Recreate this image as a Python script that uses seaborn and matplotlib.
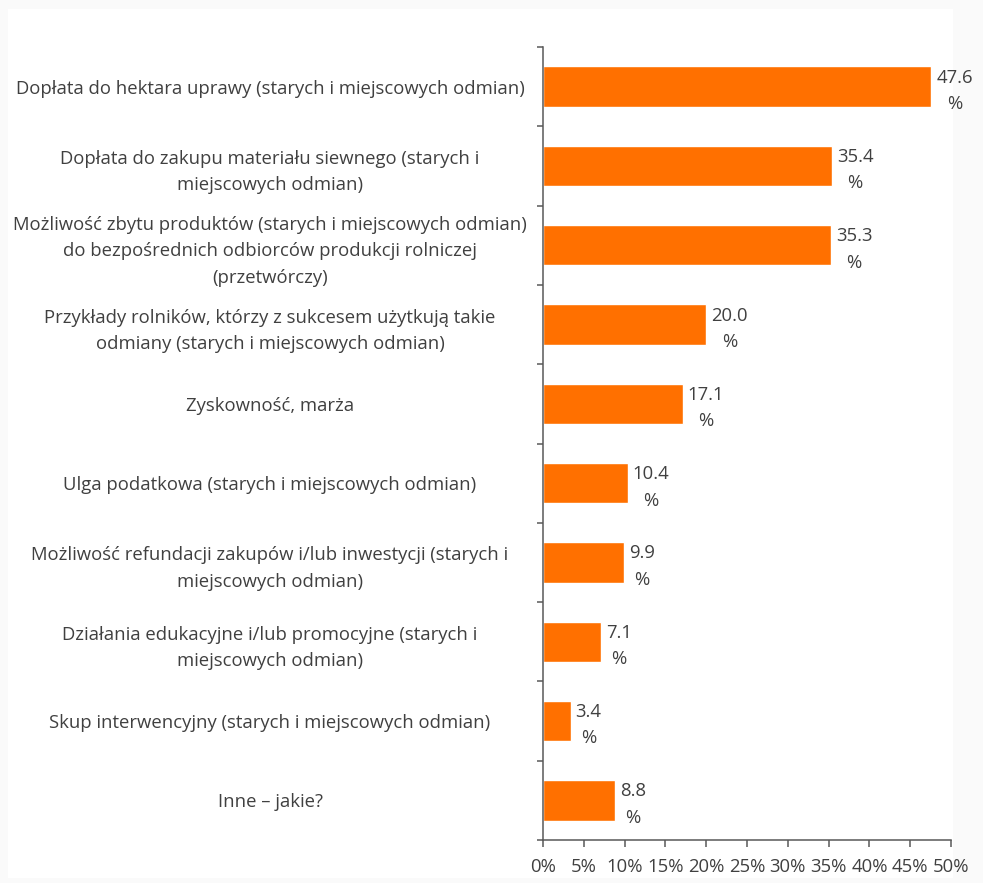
import matplotlib
matplotlib.use("Agg")
import matplotlib.pyplot as plt
import seaborn as sns
import pandas as pd
import numpy as np
from matplotlib.patches import Rectangle
from matplotlib.ticker import FixedLocator, PercentFormatter

categories = [
    "Dopłata do hektara uprawy (starych i miejscowych odmian)",
    "Dopłata do zakupu materiału siewnego (starych i\nmiejscowych odmian)",
    "Możliwość zbytu produktów (starych i miejscowych odmian)\ndo bezpośrednich odbiorców produkcji rolniczej\n(przetwórczy)",
    "Przykłady rolników, którzy z sukcesem użytkują takie\nodmiany (starych i miejscowych odmian)",
    "Zyskowność, marża",
    "Ulga podatkowa (starych i miejscowych odmian)",
    "Możliwość refundacji zakupów i/lub inwestycji (starych i\nmiejscowych odmian)",
    "Działania edukacyjne i/lub promocyjne (starych i\nmiejscowych odmian)",
    "Skup interwencyjny (starych i miejscowych odmian)",
    "Inne – jakie?",
]
values = [47.6, 35.4, 35.3, 20.0, 17.1, 10.4, 9.9, 7.1, 3.4, 8.8]
x_ticks = [0, 5, 10, 15, 20, 25, 30, 35, 40, 45, 50]

sns.set_theme(style="white")
plt.rcParams["font.family"] = ["Open Sans", "DejaVu Sans"]

TEXT = "#404040"
AXC = "#595959"
BAR = "#FF7000"
FS = 13.3
LS = 1.6

W, H = 983, 883
fig = plt.figure(figsize=(W / 100, H / 100), dpi=100, facecolor="#FAFAFA")
fig.patches.append(Rectangle((8 / W, 1 - 878 / H), (953 - 8) / W, (878 - 9) / H,
                             transform=fig.transFigure, facecolor="white",
                             edgecolor="none", zorder=-10))
ax = fig.add_axes([543 / W, 1 - 840 / H, (951 - 543) / W, (840 - 47) / H])
ax.set_facecolor("none")
ax.set_zorder(5)

df = pd.DataFrame({"cat": categories, "val": values})
sns.barplot(data=df, x="val", y="cat", orient="h", color=BAR, width=0.51,
            saturation=1, ax=ax, order=categories)

ax.set_xlim(0, 50)
ax.set_ylim(len(categories) - 0.5, -0.5)
ax.set_xlabel("")
ax.set_ylabel("")

ax.xaxis.set_major_locator(FixedLocator(x_ticks))
ax.xaxis.set_major_formatter(PercentFormatter(decimals=0))
ax.tick_params(axis="x", which="major", direction="out", length=5, width=1.1,
               color=AXC, labelcolor=TEXT, labelsize=FS, pad=8, bottom=True)

ax.set_yticks(range(len(categories)))
ax.set_yticklabels(categories, ha="center", multialignment="center",
                   linespacing=LS)
ax.yaxis.set_minor_locator(FixedLocator(np.arange(-0.5, len(categories), 1.0)))
ax.tick_params(axis="y", which="major", length=0, labelcolor=TEXT,
               labelsize=FS, pad=273 * 0.72, left=True)
ax.tick_params(axis="y", which="minor", direction="out", length=4.5, width=1.1,
               color=AXC, left=True)

for s in ["top", "right"]:
    ax.spines[s].set_visible(False)
for s in ["left", "bottom"]:
    ax.spines[s].set_color(AXC)
    ax.spines[s].set_linewidth(1.1)

for i, v in enumerate(values):
    ax.annotate(f"{v:.1f}\n%", xy=(v, i), xytext=(3.5, -3), textcoords="offset points",
                ha="left", va="center", multialignment="center", fontsize=FS,
                color=TEXT, linespacing=LS)

fig.savefig("out.png", dpi=100, facecolor=fig.get_facecolor())
